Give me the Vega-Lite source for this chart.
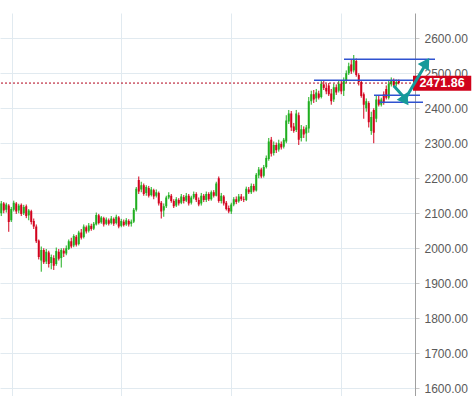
{
  "$schema": "https://vega.github.io/schema/vega-lite/v6.json",
  "autosize": {"type": "none"},
  "width": 415,
  "height": 383,
  "padding": {"left": 0, "top": 13, "right": 59, "bottom": 0},
  "background": "white",
  "config": {
    "view": {"stroke": null},
    "font": "Liberation Sans",
    "axisY": {"tickCount": 11, "labelOverlap": false}
  },
  "datasets": {
    "candles": [
      {"t":0,"o":2100,"c":2128,"h":2135,"l":2092},
      {"t":1,"o":2128,"c":2108,"h":2132,"l":2100},
      {"t":2,"o":2110,"c":2125,"h":2130,"l":2102},
      {"t":3,"o":2122,"c":2075,"h":2126,"l":2047},
      {"t":4,"o":2080,"c":2112,"h":2118,"l":2075},
      {"t":5,"o":2110,"c":2130,"h":2136,"l":2105},
      {"t":6,"o":2128,"c":2105,"h":2132,"l":2098},
      {"t":7,"o":2108,"c":2122,"h":2127,"l":2100},
      {"t":8,"o":2124,"c":2098,"h":2128,"l":2092},
      {"t":9,"o":2100,"c":2118,"h":2124,"l":2095},
      {"t":10,"o":2120,"c":2092,"h":2125,"l":2086},
      {"t":11,"o":2094,"c":2108,"h":2112,"l":2080},
      {"t":12,"o":2106,"c":2075,"h":2110,"l":2068},
      {"t":13,"o":2078,"c":2062,"h":2085,"l":2055},
      {"t":14,"o":2062,"c":2020,"h":2068,"l":2015},
      {"t":15,"o":2022,"c":1975,"h":2025,"l":1968},
      {"t":16,"o":1965,"c":1995,"h":2005,"l":1933},
      {"t":17,"o":1995,"c":1960,"h":2000,"l":1955},
      {"t":18,"o":1962,"c":1990,"h":1998,"l":1955},
      {"t":19,"o":1988,"c":1955,"h":1993,"l":1945},
      {"t":20,"o":1958,"c":1975,"h":1982,"l":1940},
      {"t":21,"o":1972,"c":1950,"h":1980,"l":1938},
      {"t":22,"o":1955,"c":1992,"h":2002,"l":1950},
      {"t":23,"o":1990,"c":1970,"h":1998,"l":1965},
      {"t":24,"o":1972,"c":1995,"h":2000,"l":1945},
      {"t":25,"o":1993,"c":1985,"h":2000,"l":1975},
      {"t":26,"o":1985,"c":2000,"h":2008,"l":1980},
      {"t":27,"o":1998,"c":2020,"h":2025,"l":1995},
      {"t":28,"o":2020,"c":2005,"h":2030,"l":2000},
      {"t":29,"o":2008,"c":2035,"h":2040,"l":2003},
      {"t":30,"o":2033,"c":2010,"h":2038,"l":2005},
      {"t":31,"o":2012,"c":2045,"h":2050,"l":2008},
      {"t":32,"o":2045,"c":2030,"h":2055,"l":2025},
      {"t":33,"o":2032,"c":2062,"h":2068,"l":2028},
      {"t":34,"o":2060,"c":2048,"h":2065,"l":2042},
      {"t":35,"o":2050,"c":2065,"h":2072,"l":2045},
      {"t":36,"o":2064,"c":2055,"h":2070,"l":2050},
      {"t":37,"o":2056,"c":2070,"h":2075,"l":2052},
      {"t":38,"o":2068,"c":2095,"h":2102,"l":2065},
      {"t":39,"o":2094,"c":2072,"h":2098,"l":2068},
      {"t":40,"o":2074,"c":2088,"h":2092,"l":2070},
      {"t":41,"o":2086,"c":2068,"h":2090,"l":2062},
      {"t":42,"o":2070,"c":2082,"h":2088,"l":2066},
      {"t":43,"o":2080,"c":2070,"h":2085,"l":2065},
      {"t":44,"o":2072,"c":2085,"h":2092,"l":2068},
      {"t":45,"o":2084,"c":2070,"h":2088,"l":2064},
      {"t":46,"o":2072,"c":2090,"h":2096,"l":2068},
      {"t":47,"o":2088,"c":2062,"h":2092,"l":2057},
      {"t":48,"o":2064,"c":2078,"h":2084,"l":2060},
      {"t":49,"o":2076,"c":2066,"h":2082,"l":2062},
      {"t":50,"o":2068,"c":2080,"h":2086,"l":2064},
      {"t":51,"o":2078,"c":2068,"h":2083,"l":2062},
      {"t":52,"o":2070,"c":2076,"h":2082,"l":2062},
      {"t":53,"o":2076,"c":2110,"h":2115,"l":2072},
      {"t":54,"o":2110,"c":2170,"h":2175,"l":2105},
      {"t":55,"o":2195,"c":2162,"h":2205,"l":2155},
      {"t":56,"o":2168,"c":2180,"h":2190,"l":2160},
      {"t":57,"o":2180,"c":2155,"h":2185,"l":2150},
      {"t":58,"o":2158,"c":2175,"h":2180,"l":2150},
      {"t":59,"o":2172,"c":2150,"h":2178,"l":2145},
      {"t":60,"o":2152,"c":2168,"h":2175,"l":2148},
      {"t":61,"o":2166,"c":2148,"h":2170,"l":2140},
      {"t":62,"o":2150,"c":2160,"h":2168,"l":2145},
      {"t":63,"o":2158,"c":2128,"h":2162,"l":2122},
      {"t":64,"o":2130,"c":2105,"h":2135,"l":2085},
      {"t":65,"o":2108,"c":2120,"h":2128,"l":2090},
      {"t":66,"o":2120,"c":2145,"h":2150,"l":2115},
      {"t":67,"o":2145,"c":2152,"h":2160,"l":2140},
      {"t":68,"o":2150,"c":2135,"h":2155,"l":2130},
      {"t":69,"o":2135,"c":2120,"h":2140,"l":2115},
      {"t":70,"o":2122,"c":2140,"h":2146,"l":2118},
      {"t":71,"o":2138,"c":2128,"h":2143,"l":2122},
      {"t":72,"o":2130,"c":2148,"h":2155,"l":2126},
      {"t":73,"o":2146,"c":2135,"h":2152,"l":2128},
      {"t":74,"o":2136,"c":2150,"h":2158,"l":2132},
      {"t":75,"o":2150,"c":2128,"h":2155,"l":2122},
      {"t":76,"o":2130,"c":2145,"h":2150,"l":2125},
      {"t":77,"o":2145,"c":2155,"h":2162,"l":2140},
      {"t":78,"o":2155,"c":2138,"h":2160,"l":2132},
      {"t":79,"o":2138,"c":2125,"h":2145,"l":2120},
      {"t":80,"o":2128,"c":2150,"h":2158,"l":2122},
      {"t":81,"o":2150,"c":2138,"h":2155,"l":2132},
      {"t":82,"o":2138,"c":2155,"h":2162,"l":2132},
      {"t":83,"o":2155,"c":2140,"h":2160,"l":2135},
      {"t":84,"o":2140,"c":2160,"h":2165,"l":2136},
      {"t":85,"o":2160,"c":2150,"h":2166,"l":2145},
      {"t":86,"o":2150,"c":2185,"h":2190,"l":2148},
      {"t":87,"o":2200,"c":2135,"h":2205,"l":2130},
      {"t":88,"o":2135,"c":2150,"h":2158,"l":2128},
      {"t":89,"o":2148,"c":2128,"h":2152,"l":2122},
      {"t":90,"o":2130,"c":2112,"h":2135,"l":2108},
      {"t":91,"o":2115,"c":2105,"h":2122,"l":2100},
      {"t":92,"o":2105,"c":2125,"h":2130,"l":2098},
      {"t":93,"o":2125,"c":2140,"h":2146,"l":2120},
      {"t":94,"o":2140,"c":2132,"h":2148,"l":2126},
      {"t":95,"o":2134,"c":2148,"h":2155,"l":2130},
      {"t":96,"o":2148,"c":2140,"h":2155,"l":2135},
      {"t":97,"o":2140,"c":2138,"h":2148,"l":2132},
      {"t":98,"o":2138,"c":2170,"h":2176,"l":2135},
      {"t":99,"o":2168,"c":2160,"h":2175,"l":2155},
      {"t":100,"o":2160,"c":2178,"h":2185,"l":2155},
      {"t":101,"o":2178,"c":2165,"h":2184,"l":2160},
      {"t":102,"o":2165,"c":2210,"h":2215,"l":2162},
      {"t":103,"o":2208,"c":2225,"h":2232,"l":2200},
      {"t":104,"o":2225,"c":2205,"h":2230,"l":2200},
      {"t":105,"o":2207,"c":2232,"h":2238,"l":2202},
      {"t":106,"o":2232,"c":2258,"h":2265,"l":2228},
      {"t":107,"o":2255,"c":2305,"h":2315,"l":2250},
      {"t":108,"o":2310,"c":2270,"h":2318,"l":2262},
      {"t":109,"o":2272,"c":2295,"h":2305,"l":2265},
      {"t":110,"o":2295,"c":2280,"h":2302,"l":2272},
      {"t":111,"o":2282,"c":2300,"h":2310,"l":2276},
      {"t":112,"o":2298,"c":2288,"h":2305,"l":2282},
      {"t":113,"o":2290,"c":2310,"h":2315,"l":2285},
      {"t":114,"o":2305,"c":2365,"h":2380,"l":2300},
      {"t":115,"o":2362,"c":2385,"h":2395,"l":2355},
      {"t":116,"o":2385,"c":2345,"h":2392,"l":2335},
      {"t":117,"o":2348,"c":2335,"h":2358,"l":2330},
      {"t":118,"o":2338,"c":2385,"h":2395,"l":2332},
      {"t":119,"o":2380,"c":2310,"h":2388,"l":2295},
      {"t":120,"o":2315,"c":2340,"h":2352,"l":2305},
      {"t":121,"o":2340,"c":2325,"h":2348,"l":2315},
      {"t":122,"o":2328,"c":2345,"h":2352,"l":2305},
      {"t":123,"o":2342,"c":2420,"h":2432,"l":2330},
      {"t":124,"o":2420,"c":2440,"h":2450,"l":2410},
      {"t":125,"o":2440,"c":2425,"h":2452,"l":2415},
      {"t":126,"o":2428,"c":2445,"h":2455,"l":2418},
      {"t":127,"o":2442,"c":2430,"h":2450,"l":2425},
      {"t":128,"o":2432,"c":2470,"h":2480,"l":2428},
      {"t":129,"o":2468,"c":2458,"h":2478,"l":2452},
      {"t":130,"o":2458,"c":2448,"h":2470,"l":2440},
      {"t":131,"o":2465,"c":2440,"h":2472,"l":2435},
      {"t":132,"o":2442,"c":2420,"h":2455,"l":2410},
      {"t":133,"o":2425,"c":2460,"h":2470,"l":2418},
      {"t":134,"o":2460,"c":2445,"h":2468,"l":2438},
      {"t":135,"o":2450,"c":2470,"h":2478,"l":2445},
      {"t":136,"o":2470,"c":2448,"h":2478,"l":2440},
      {"t":137,"o":2450,"c":2480,"h":2488,"l":2435},
      {"t":138,"o":2478,"c":2500,"h":2508,"l":2472},
      {"t":139,"o":2500,"c":2520,"h":2530,"l":2495},
      {"t":140,"o":2525,"c":2505,"h":2540,"l":2498},
      {"t":141,"o":2508,"c":2540,"h":2552,"l":2502},
      {"t":142,"o":2535,"c":2495,"h":2542,"l":2490},
      {"t":143,"o":2495,"c":2475,"h":2500,"l":2465},
      {"t":144,"o":2475,"c":2435,"h":2480,"l":2430},
      {"t":145,"o":2440,"c":2410,"h":2445,"l":2370},
      {"t":146,"o":2400,"c":2420,"h":2428,"l":2390},
      {"t":147,"o":2415,"c":2360,"h":2420,"l":2345},
      {"t":148,"o":2335,"c":2375,"h":2390,"l":2324},
      {"t":149,"o":2395,"c":2330,"h":2400,"l":2300},
      {"t":150,"o":2370,"c":2425,"h":2435,"l":2360},
      {"t":151,"o":2425,"c":2410,"h":2435,"l":2405},
      {"t":152,"o":2410,"c":2425,"h":2430,"l":2405},
      {"t":153,"o":2440,"c":2415,"h":2448,"l":2410},
      {"t":154,"o":2455,"c":2430,"h":2465,"l":2425},
      {"t":155,"o":2430,"c":2470,"h":2478,"l":2425},
      {"t":156,"o":2468,"c":2480,"h":2488,"l":2462},
      {"t":157,"o":2478,"c":2465,"h":2485,"l":2460},
      {"t":158,"o":2468,"c":2475,"h":2482,"l":2462},
      {"t":159,"o":2478,"c":2471.86,"h":2482,"l":2468}
    ],
    "hlines": [
      {"t1":137.1,"t2":173.5,"p":2540},
      {"t1":125.1,"t2":165.9,"p":2480},
      {"t1":149.1,"t2":167.5,"p":2437},
      {"t1":151.1,"t2":168.7,"p":2417}
    ],
    "shafts": [
      {"t1":157.0,"p1":2464,"t2":161.0,"p2":2432},
      {"t1":161.4,"p1":2424,"t2":169.3,"p2":2520}
    ],
    "headDown": [{"t":161.6,"p":2422}],
    "headUp": [{"t":170.0,"p":2530}],
    "last": [{"t1":164.7,"t2":188.0,"p1":2450,"p2":2493,"tm":176.3,"price":2471.86}]
  },
  "layer": [
    {
      "data": {"name": "candles"},
      "mark": {"type": "rule", "strokeWidth": 1},
      "encoding": {
        "x": {"field": "t", "type": "quantitative",
              "scale": {"domain": [-0.5, 165.5], "nice": false, "zero": false},
              "axis": {"values": [4.3, 47.9, 91.9, 135.9], "labels": false, "ticks": false, "domain": false, "title": null, "grid": true, "gridColor": "#e1eaf0", "gridWidth": 1}},
        "y": {"field": "l", "type": "quantitative",
              "scale": {"domain": [1578, 2672], "nice": false, "zero": false},
              "axis": {"orient": "right", "values": [1600,1700,1800,1900,2000,2100,2200,2300,2400,2500,2600], "tickCount": 11, "format": ".2f", "title": null, "labelOverlap": false, "grid": true, "gridColor": "#e1eaf0", "gridWidth": 1, "domainColor": "#a0a0a0", "tickColor": "#c8c8c8", "tickSize": 4, "labelPadding": 5, "labelColor": "#5a5a5a", "labelFontSize": 12, "labelFont": "Liberation Sans"}},
        "y2": {"field": "h"},
        "color": {"condition": {"test": "datum.c >= datum.o", "value": "#1fae1f"}, "value": "#d2021d"}
      }
    },
    {
      "data": {"name": "candles"},
      "mark": {"type": "rule", "strokeWidth": 2},
      "encoding": {
        "x": {"field": "t", "type": "quantitative"},
        "y": {"field": "o", "type": "quantitative",
              "axis": {"orient": "right", "values": [1600,1700,1800,1900,2000,2100,2200,2300,2400,2500,2600], "tickCount": 11, "format": ".2f", "title": null, "labelOverlap": false, "grid": true, "gridColor": "#e1eaf0", "gridWidth": 1, "domainColor": "#a0a0a0", "tickColor": "#c8c8c8", "tickSize": 4, "labelPadding": 5, "labelColor": "#5a5a5a", "labelFontSize": 12, "labelFont": "Liberation Sans"}},
        "y2": {"field": "c"},
        "color": {"condition": {"test": "datum.c >= datum.o", "value": "#1fae1f"}, "value": "#d2021d"}
      }
    },
    {
      "data": {"name": "last"},
      "mark": {"type": "rule", "color": "#b0021a", "strokeWidth": 1, "strokeDash": [2, 2]},
      "encoding": {"y": {"field": "price", "type": "quantitative"}}
    },
    {
      "data": {"name": "hlines"},
      "mark": {"type": "rule", "color": "#2f52d0", "strokeWidth": 1.5},
      "encoding": {
        "x": {"field": "t1", "type": "quantitative"},
        "x2": {"field": "t2"},
        "y": {"field": "p", "type": "quantitative"},
        "y2": {"field": "p"}
      }
    },
    {
      "data": {"name": "last"},
      "mark": {"type": "rect", "color": "#d0021b"},
      "encoding": {
        "x": {"field": "t1", "type": "quantitative"},
        "x2": {"field": "t2"},
        "y": {"field": "p1", "type": "quantitative"},
        "y2": {"field": "p2"}
      }
    },
    {
      "data": {"name": "last"},
      "mark": {"type": "text", "color": "white", "fontWeight": "bold", "fontSize": 12.5, "font": "Liberation Sans", "align": "center", "baseline": "middle"},
      "encoding": {
        "x": {"field": "tm", "type": "quantitative"},
        "y": {"field": "price", "type": "quantitative"},
        "text": {"field": "price", "type": "quantitative", "format": ".2f"}
      }
    },
    {
      "data": {"name": "shafts"},
      "mark": {"type": "rule", "color": "#169a9a", "strokeWidth": 3},
      "encoding": {
        "x": {"field": "t1", "type": "quantitative"},
        "x2": {"field": "t2"},
        "y": {"field": "p1", "type": "quantitative"},
        "y2": {"field": "p2"}
      }
    },
    {
      "data": {"name": "headDown"},
      "mark": {"type": "point", "shape": "triangle-up", "filled": true, "color": "#169a9a", "opacity": 1, "size": 170, "angle": 145},
      "encoding": {
        "x": {"field": "t", "type": "quantitative"},
        "y": {"field": "p", "type": "quantitative"}
      }
    },
    {
      "data": {"name": "headUp"},
      "mark": {"type": "point", "shape": "triangle-up", "filled": true, "color": "#169a9a", "opacity": 1, "size": 170, "angle": 32},
      "encoding": {
        "x": {"field": "t", "type": "quantitative"},
        "y": {"field": "p", "type": "quantitative"}
      }
    }
  ]
}
